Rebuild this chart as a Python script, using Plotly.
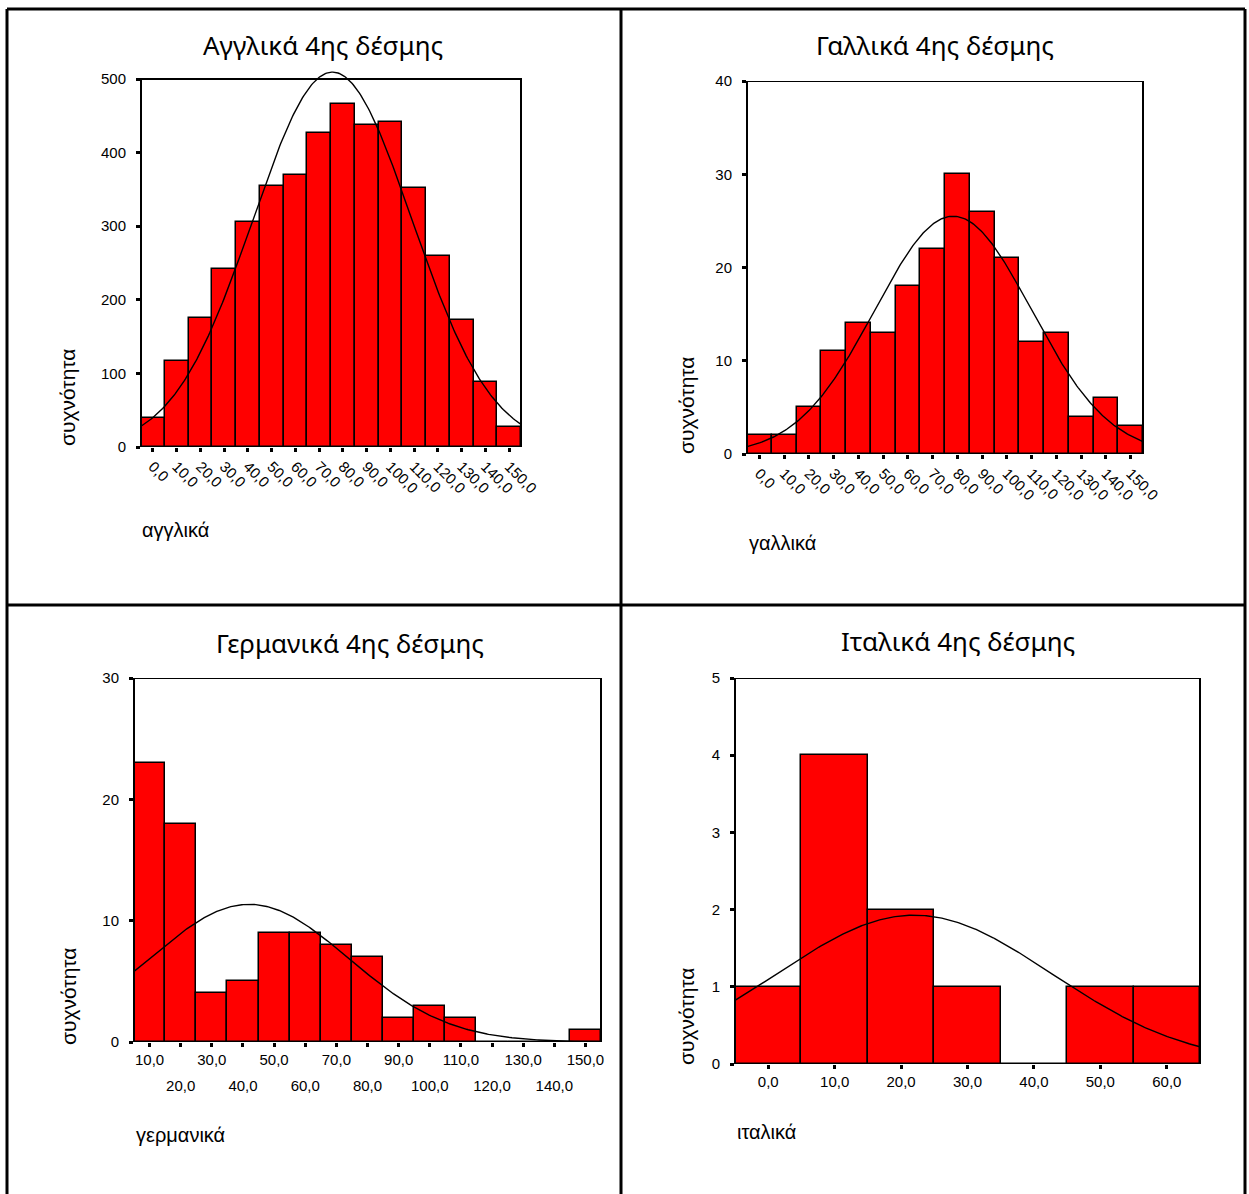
import numpy as np
import plotly.graph_objects as go

W, H = 1249, 1194

# ---------------- data ----------------
eng_centers = [0, 10, 20, 30, 40, 50, 60, 70, 80, 90, 100, 110, 120, 130, 140, 150]
eng_counts = [40, 117, 176, 242, 306, 355, 370, 427, 466, 437, 442, 352, 259, 172, 89, 27]
eng_ticks = ["0,0", "10,0", "20,0", "30,0", "40,0", "50,0", "60,0", "70,0", "80,0", "90,0",
             "100,0", "110,0", "120,0", "130,0", "140,0", "150,0"]
eng_mean, eng_sd = 75.6, 33.5

fre_centers = [0, 10, 20, 30, 40, 50, 60, 70, 80, 90, 100, 110, 120, 130, 140, 150]
fre_counts = [2, 2, 5, 11, 14, 13, 18, 22, 30, 26, 21, 12, 13, 4, 6, 3]
fre_ticks = eng_ticks
fre_mean, fre_sd = 78.3, 31.6

ger_centers = [10, 20, 30, 40, 50, 60, 70, 80, 90, 100, 110, 120, 130, 140, 150]
ger_counts = [23, 18, 4, 5, 9, 9, 8, 7, 2, 3, 2, 0, 0, 0, 1]
ger_ticks_row1 = ["10,0", "", "30,0", "", "50,0", "", "70,0", "", "90,0", "", "110,0", "", "130,0", "", "150,0"]
ger_ticks_row2 = ["", "20,0", "", "40,0", "", "60,0", "", "80,0", "", "100,0", "", "120,0", "", "140,0", ""]
ger_mean, ger_sd = 42.0, 32.0

ita_centers = [0, 10, 20, 30, 40, 50, 60]
ita_counts = [1, 4, 2, 1, 0, 1, 1]
ita_ticks = ["0,0", "10,0", "20,0", "30,0", "40,0", "50,0", "60,0"]
ita_mean, ita_sd = 22.0, 20.7

BIN = 10

titles = ["Αγγλικά 4ης δέσμης", "Γαλλικά 4ης δέσμης", "Γερμανικά 4ης δέσμης", "Ιταλικά 4ης δέσμης"]
xtitles = ["αγγλικά", "γαλλικά", "γερμανικά", "ιταλικά"]
ytitle = "συχνότητα"

# ---------------- layout geometry (pixels) ----------------
panels = [
    dict(c=eng_centers, n=eng_counts, t=eng_ticks, m=eng_mean, s=eng_sd, ymax=500, dtick=100,
         box=(141, 521, 79, 447), ext=515, angle=45,
         title_xy=(323, 45), xt_xy=(140, 530), yt_xy=(68, 398)),
    dict(c=fre_centers, n=fre_counts, t=fre_ticks, m=fre_mean, s=fre_sd, ymax=40, dtick=10,
         box=(747, 1143, 81, 454), ext=40, angle=45,
         title_xy=(935, 45), xt_xy=(747, 543), yt_xy=(686, 406)),
    dict(c=ger_centers, n=ger_counts, t=ger_ticks_row1, m=ger_mean, s=ger_sd, ymax=30, dtick=10,
         box=(134, 601, 678, 1042), ext=30, angle=0,
         title_xy=(350, 643), xt_xy=(134, 1135), yt_xy=(68, 997)),
    dict(c=ita_centers, n=ita_counts, t=ita_ticks, m=ita_mean, s=ita_sd, ymax=5, dtick=1,
         box=(735, 1200, 678, 1064), ext=5, angle=0,
         title_xy=(958, 641), xt_xy=(735, 1132), yt_xy=(686, 1017)),
]

FONT = "Liberation Sans, Arial, sans-serif"
TFONT = "Noto Sans, Open Sans, sans-serif"
TICKSIZE = 15

fig = go.Figure()
layout = dict(width=W, height=H, margin=dict(l=0, r=0, t=0, b=0, pad=0, autoexpand=False),
              paper_bgcolor="white", plot_bgcolor="white", showlegend=False,
              bargap=0, font=dict(family=FONT, color="black"))
annotations = []
shapes = []

for i, p in enumerate(panels, start=1):
    xa = "x" if i == 1 else f"x{i}"
    ya = "y" if i == 1 else f"y{i}"
    xkey = "xaxis" if i == 1 else f"xaxis{i}"
    ykey = "yaxis" if i == 1 else f"yaxis{i}"
    l, r, top, bot = p["box"]
    ymax, ext = p["ymax"], p["ext"]
    pxu = (bot - top) / ymax
    top_ext = bot - ext * pxu
    xlo = min(p["c"]) - BIN / 2
    xhi = max(p["c"]) + BIN / 2

    fig.add_trace(go.Bar(x=p["c"], y=p["n"], width=BIN, xaxis=xa, yaxis=ya,
                         marker=dict(color="#ff0000", line=dict(color="black", width=1.5)),
                         hoverinfo="x+y"))
    N = sum(p["n"])
    xs = np.linspace(xlo, xhi, 300)
    ys = N * BIN * np.exp(-0.5 * ((xs - p["m"]) / p["s"]) ** 2) / (p["s"] * np.sqrt(2 * np.pi))
    fig.add_trace(go.Scatter(x=xs, y=ys, mode="lines", xaxis=xa, yaxis=ya,
                             line=dict(color="black", width=1.4), hoverinfo="skip"))

    layout[xkey] = dict(domain=[l / W, r / W], range=[xlo, xhi], anchor=ya, automargin=False,
                        tickvals=p["c"], ticktext=p["t"], tickangle=p["angle"],
                        ticks="outside", ticklen=4, tickwidth=3, tickcolor="black",
                        showline=False, showgrid=False, zeroline=False,
                        tickfont=dict(family=FONT, size=TICKSIZE, color="black"), fixedrange=True)
    layout[ykey] = dict(domain=[1 - bot / H, 1 - top_ext / H], range=[0, ext], anchor=xa,
                        automargin=False, ticklabelstandoff=7,
                        tickvals=list(range(0, ymax + 1, p["dtick"])),
                        ticks="outside", ticklen=4, tickwidth=3, tickcolor="black",
                        showline=False, showgrid=False, zeroline=False,
                        tickfont=dict(family=FONT, size=TICKSIZE, color="black"), fixedrange=True)
    shapes.append(dict(type="rect", xref=f"{xa} domain", yref=ya, x0=0, x1=1, y0=0, y1=ymax,
                       line=dict(color="black", width=2), layer="above"))
    tx, ty = p["title_xy"]
    annotations.append(dict(text=titles[i - 1], x=tx / W, y=1 - ty / H, xref="paper", yref="paper",
                            showarrow=False, xanchor="center", yanchor="middle",
                            font=dict(family=TFONT, size=26, color="black")))
    xx, xy = p["xt_xy"]
    annotations.append(dict(text=xtitles[i - 1], x=xx / W, y=1 - xy / H, xref="paper", yref="paper",
                            showarrow=False, xanchor="left", yanchor="middle",
                            font=dict(family=FONT, size=20, color="black")))
    yx, yy = p["yt_xy"]
    annotations.append(dict(text=ytitle, x=yx / W, y=1 - yy / H, xref="paper", yref="paper",
                            showarrow=False, xanchor="center", yanchor="middle", textangle=-90,
                            font=dict(family=FONT, size=21, color="black")))

# second row of tick labels for the German panel (overlay axis)
g = panels[2]
layout["xaxis5"] = dict(overlaying="x3", anchor="y3", range=layout["xaxis3"]["range"],
                        automargin=False,
                        tickvals=g["c"], ticktext=ger_ticks_row2, ticks="",
                        ticklabelstandoff=33, showline=False, showgrid=False, zeroline=False,
                        tickfont=dict(family=FONT, size=TICKSIZE, color="black"), fixedrange=True)
fig.add_trace(go.Scatter(x=[g["c"][0]], y=[0], xaxis="x5", yaxis="y3", mode="markers",
                         marker=dict(opacity=0), hoverinfo="skip"))


def px_line(x0, y0, x1, y1):
    return dict(type="line", xref="paper", yref="paper", x0=x0 / W, x1=x1 / W,
                y0=1 - y0 / H, y1=1 - y1 / H, line=dict(color="black", width=3))


shapes += [px_line(7, 9, 1245, 9), px_line(7, 9, 7, 1194), px_line(1245, 9, 1245, 1194),
           px_line(621, 9, 621, 1194), px_line(7, 605, 1245, 605)]

layout["annotations"] = annotations
layout["shapes"] = shapes
fig.update_layout(**layout)

post = ("var gd=document.getElementById('{plot_id}');"
        "gd.style.position='fixed';gd.style.top='0px';gd.style.left='0px';"
        "document.body.style.margin='0';document.body.style.overflow='hidden';"
        "document.documentElement.style.overflow='hidden';")
fig.write_html("out.html", config={"displayModeBar": False}, post_script=post)
